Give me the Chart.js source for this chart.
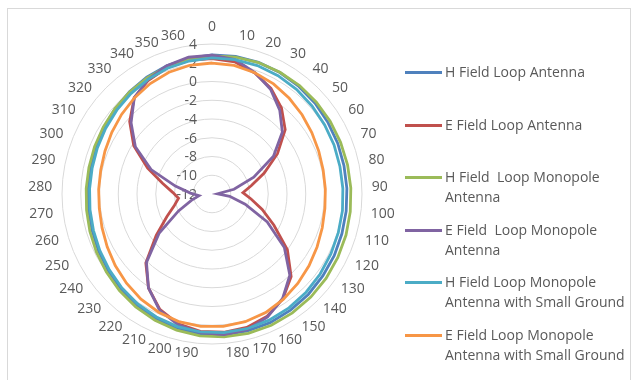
<!DOCTYPE html>
<html>
<head>
<meta charset="utf-8">
<script src="https://cdn.jsdelivr.net/npm/chart.js@4.4.1/dist/chart.umd.min.js"></script>
<style>
  html, body { margin: 0; padding: 0; background: #fff; }
  #wrap { position: relative; width: 638px; height: 380px; overflow: hidden; font-family: "Open Sans", sans-serif; }
  #frame { position: absolute; left: 7px; top: 8px; width: 624px; height: 420px; border: 1px solid #d9d9d9; box-sizing: border-box; }
  #box { position: absolute; left: 0; top: 0; width: 638px; height: 380px; }
  #legend { position: absolute; left: 405px; top: 0; }
  .item { position: absolute; left: 0; display: flex; align-items: flex-start; }
  .swatch { width: 37px; height: 3px; margin-top: 9px; flex: none; }
  .text { margin-left: 3px; width: 190px; font-size: 14px; line-height: 20px; color: #595959; white-space: pre-wrap; }
</style>
</head>
<body>
<div id="wrap">
  <div id="frame"></div>
  <div id="box"><canvas id="c"></canvas></div>
  <div id="legend"></div>
</div>
<script>
// Angle categories (degrees)
const angles = ['0','10','20','30','40','50','60','70','80','90','100','110','120','130','140','150','160','170','180',
                '190','200','210','220','230','240','250','260','270','280','290','300','310','320','330','340','350','360'];

// Radial axis ticks
const tickValues = [-12, -10, -8, -6, -4, -2, 0, 2, 4];

// Series names
const seriesNames = [
  'H Field Loop Antenna',
  'E Field Loop Antenna',
  'H Field  Loop Monopole Antenna',
  'E Field  Loop Monopole Antenna',
  'H Field Loop Monopole Antenna with Small Ground',
  'E Field Loop Monopole Antenna with Small Ground'
];

// Measured patterns, one value per angle
const hLoop = [2.83,2.88,2.89,2.84,2.75,2.65,2.53,2.46,2.4,2.4,2.43,2.49,2.6,2.7,2.84,2.95,3.06,3.09,3.08,
               2.98,2.79,2.57,2.3,2.03,1.76,1.55,1.37,1.27,1.23,1.26,1.37,1.54,1.76,2.01,2.27,2.5,2.69];
const eLoop = [2.45,2.3,1.7,0.9,-0.2,-1.6,-3.8,-6.0,-7.7,-8.7,-7.8,-6.4,-4.6,-2.0,0.2,1.5,2.3,2.7,2.8,
               2.7,2.3,1.5,0.1,-1.8,-4.6,-6.6,-7.8,-8.4,-7.8,-6.6,-4.6,-2.2,-0.3,1.2,1.9,2.3,2.45];
const hMono = [2.72,2.81,2.87,2.87,2.86,2.83,2.8,2.78,2.79,2.82,2.87,2.95,3.03,3.13,3.23,3.31,3.36,3.35,3.3,
               3.18,3.0,2.78,2.53,2.27,2.01,1.8,1.62,1.49,1.43,1.43,1.5,1.62,1.79,1.99,2.19,2.41,2.57];
const eMono = [2.8,2.55,1.75,0.8,-0.5,-2.0,-4.3,-7.2,-9.6,-11.4,-10.1,-8.3,-5.4,-2.4,0.0,1.45,2.4,2.95,3.05,
               2.85,2.4,1.6,0.1,-1.9,-5.0,-8.0,-9.7,-10.6,-9.7,-8.0,-5.0,-2.4,-0.5,1.2,2.0,2.5,2.8];
const hMonoGnd = [2.51,2.55,2.53,2.45,2.34,2.21,2.1,2.03,1.96,1.97,2.03,2.09,2.2,2.35,2.51,2.66,2.77,2.85,2.85,
                  2.76,2.62,2.4,2.15,1.88,1.62,1.4,1.23,1.12,1.07,1.08,1.18,1.33,1.53,1.77,2.01,2.23,2.39];
const eMonoGnd = [1.97,1.92,1.72,1.45,1.12,0.8,0.5,0.27,0.13,0.1,0.14,0.3,0.55,0.87,1.22,1.57,1.88,2.08,2.18,
                  2.18,2.06,1.84,1.53,1.18,0.84,0.52,0.27,0.12,0.1,0.14,0.3,0.55,0.85,1.18,1.5,1.78,1.93];

const seriesData = [hLoop, eLoop, hMono, eMono, hMonoGnd, eMonoGnd];
const colors = ['#4F81BD', '#C0504D', '#9BBB59', '#8064A2', '#4BACC6', '#F79646'];

const labelFont = '14px "Open Sans", sans-serif';
const labelColor = '#595959';

// Draws the value labels just left of the vertical axis
const tickLabelPlugin = {
  id: 'tickLabels',
  beforeDatasetsDraw(chart) {
    const s = chart.scales.r;
    const ctx = chart.ctx;
    ctx.save();
    ctx.font = labelFont;
    ctx.fillStyle = labelColor;
    ctx.textAlign = 'right';
    ctx.textBaseline = 'middle';
    tickValues.forEach(v => {
      const d = s.getDistanceFromCenterForValue(v);
      ctx.fillText(String(v), s.xCenter - 15, s.yCenter - d + 1);
    });
    ctx.restore();
  }
};

// Draws the angle labels around the outer ring
const angleLabelPlugin = {
  id: 'angleLabels',
  afterDraw(chart) {
    const s = chart.scales.r;
    const ctx = chart.ctx;
    ctx.save();
    ctx.font = labelFont;
    ctx.fillStyle = labelColor;
    angles.forEach((lab, i) => {
      const p = s.getPointPosition(i, s.drawingArea + 10);
      const deg = Math.round(s.getIndexAngle(i) * 180 / Math.PI * 100) / 100;
      if (deg === 0) {
        ctx.textAlign = 'center'; ctx.textBaseline = 'bottom';
      } else if (deg < 180) {
        ctx.textAlign = 'left'; ctx.textBaseline = 'middle';
      } else {
        ctx.textAlign = 'right'; ctx.textBaseline = 'middle';
      }
      ctx.fillText(lab, p.x, p.y);
    });
    ctx.restore();
  }
};

new Chart(document.getElementById('c'), {
  type: 'radar',
  data: {
    labels: angles,
    datasets: seriesData.map((d, i) => ({
      label: seriesNames[i],
      data: d,
      borderColor: colors[i],
      backgroundColor: colors[i],
      borderWidth: 2.8,
      pointRadius: 0,
      pointHoverRadius: 0,
      fill: false,
      tension: 0,
      order: seriesData.length - 1 - i
    }))
  },
  options: {
    responsive: true,
    maintainAspectRatio: false,
    devicePixelRatio: 1,
    animation: false,
    layout: { padding: { left: 62, top: 44, right: 276, bottom: 36 } },
    plugins: { legend: { display: false }, tooltip: { enabled: false } },
    scales: {
      r: {
        min: -12,
        max: 4,
        ticks: { stepSize: 2, display: false },
        pointLabels: { display: false },
        angleLines: { display: false },
        grid: { circular: true, color: '#d9d9d9', lineWidth: 1 }
      }
    }
  },
  plugins: [tickLabelPlugin, angleLabelPlugin]
});

// Legend
const legend = document.getElementById('legend');
seriesNames.forEach((name, i) => {
  const item = document.createElement('div');
  item.className = 'item';
  item.style.top = (62 + i * 52.6) + 'px';
  const sw = document.createElement('div');
  sw.className = 'swatch';
  sw.style.background = colors[i];
  const tx = document.createElement('div');
  tx.className = 'text';
  tx.textContent = name;
  item.appendChild(sw);
  item.appendChild(tx);
  legend.appendChild(item);
});
</script>
</body>
</html>
